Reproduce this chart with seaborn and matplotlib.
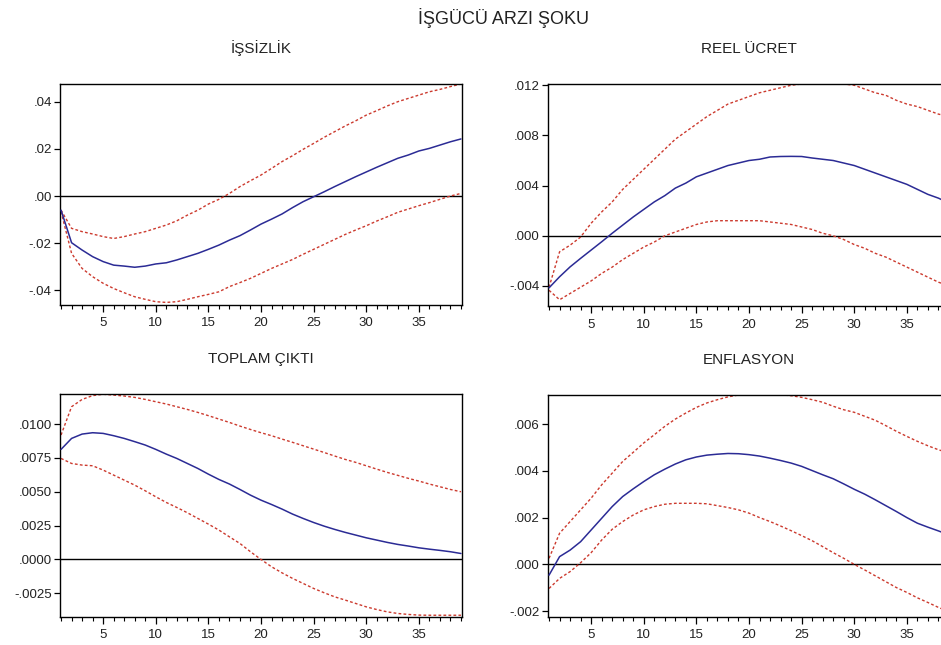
import numpy as np
import pandas as pd
import matplotlib
matplotlib.use("Agg")
import matplotlib.pyplot as plt
from matplotlib.ticker import MultipleLocator, FixedLocator, FixedFormatter
import seaborn as sns

periods = list(range(1, 40))

issizlik = [-0.0060, -0.0198, -0.0229, -0.0257, -0.0278, -0.0293, -0.0297, -0.0302, -0.0297, -0.0288,
            -0.0283, -0.0271, -0.0257, -0.0243, -0.0226, -0.0208, -0.0187, -0.0168, -0.0144, -0.0119,
            -0.0098, -0.0076, -0.0049, -0.0024, -0.0003, 0.0018, 0.0040, 0.0061, 0.0082, 0.0102,
            0.0122, 0.0141, 0.0160, 0.0174, 0.0191, 0.0202, 0.0216, 0.0230, 0.0242]
issizlik_up = [-0.0060, -0.0137, -0.0151, -0.0161, -0.0172, -0.0180, -0.0172, -0.0161, -0.0151, -0.0137,
               -0.0123, -0.0105, -0.0081, -0.0060, -0.0034, -0.0014, 0.0011, 0.0040, 0.0065, 0.0089,
               0.0117, 0.0146, 0.0171, 0.0198, 0.0223, 0.0249, 0.0273, 0.0297, 0.0319, 0.0343,
               0.0362, 0.0382, 0.0400, 0.0414, 0.0428, 0.0442, 0.0452, 0.0464, 0.0475]
issizlik_lo = [-0.0066, -0.0243, -0.0307, -0.0342, -0.0370, -0.0392, -0.0410, -0.0427, -0.0438, -0.0448,
               -0.0451, -0.0448, -0.0438, -0.0427, -0.0417, -0.0406, -0.0384, -0.0367, -0.0349, -0.0328,
               -0.0307, -0.0288, -0.0269, -0.0247, -0.0226, -0.0205, -0.0184, -0.0163, -0.0144, -0.0126,
               -0.0106, -0.0088, -0.0069, -0.0055, -0.0041, -0.0028, -0.0014, 0.0000, 0.0011]

reel = [-0.00415, -0.00327, -0.00248, -0.00180, -0.00114, -0.00048, 0.00020, 0.00085, 0.00150, 0.00210,
        0.00270, 0.00320, 0.00380, 0.00420, 0.00470, 0.00500, 0.00530, 0.00560, 0.00580, 0.00600,
        0.00610, 0.00628, 0.00632, 0.00633, 0.00632, 0.00620, 0.00610, 0.00600, 0.00580, 0.00560,
        0.00530, 0.00500, 0.00470, 0.00440, 0.00410, 0.00370, 0.00330, 0.00300, 0.00260]
reel_up = [-0.00410, -0.00128, -0.00075, -0.00010, 0.00100, 0.00190, 0.00270, 0.00370, 0.00450, 0.00530,
           0.00610, 0.00690, 0.00770, 0.00830, 0.00890, 0.00950, 0.01000, 0.01050, 0.01080, 0.01110,
           0.01140, 0.01160, 0.01180, 0.01200, 0.01210, 0.01212, 0.01212, 0.01212, 0.01210, 0.01200,
           0.01170, 0.01140, 0.01120, 0.01080, 0.01050, 0.01030, 0.01000, 0.00970, 0.00950]
reel_lo = [-0.00435, -0.00510, -0.00460, -0.00410, -0.00360, -0.00300, -0.00250, -0.00190, -0.00140, -0.00090,
           -0.00050, 0.00000, 0.00030, 0.00060, 0.00090, 0.00110, 0.00120, 0.00120, 0.00120, 0.00120,
           0.00120, 0.00110, 0.00100, 0.00090, 0.00070, 0.00050, 0.00020, 0.00000, -0.00030, -0.00070,
           -0.00100, -0.00140, -0.00170, -0.00210, -0.00250, -0.00290, -0.00330, -0.00370, -0.00400]

cikti = [0.00813, 0.00894, 0.00926, 0.00936, 0.00931, 0.00914, 0.00894, 0.00870, 0.00845, 0.00813,
         0.00778, 0.00746, 0.00709, 0.00672, 0.00630, 0.00591, 0.00557, 0.00517, 0.00475, 0.00438,
         0.00406, 0.00372, 0.00335, 0.00303, 0.00273, 0.00246, 0.00222, 0.00200, 0.00180, 0.00160,
         0.00143, 0.00126, 0.00111, 0.00099, 0.00086, 0.00076, 0.00067, 0.00057, 0.00044]
cikti_up = [0.00919, 0.01128, 0.01182, 0.01210, 0.01220, 0.01214, 0.01207, 0.01197, 0.01182, 0.01165,
            0.01148, 0.01128, 0.01108, 0.01086, 0.01062, 0.01037, 0.01012, 0.00985, 0.00960, 0.00936,
            0.00914, 0.00889, 0.00865, 0.00840, 0.00815, 0.00790, 0.00764, 0.00739, 0.00717, 0.00692,
            0.00667, 0.00643, 0.00621, 0.00599, 0.00579, 0.00557, 0.00537, 0.00517, 0.00500]
cikti_lo = [0.00746, 0.00709, 0.00697, 0.00692, 0.00660, 0.00623, 0.00586, 0.00549, 0.00507, 0.00463,
            0.00421, 0.00384, 0.00345, 0.00303, 0.00261, 0.00217, 0.00167, 0.00118, 0.00057, 0.00000,
            -0.00054, -0.00099, -0.00140, -0.00177, -0.00214, -0.00246, -0.00276, -0.00300, -0.00325, -0.00350,
            -0.00370, -0.00387, -0.00399, -0.00406, -0.00411, -0.00412, -0.00412, -0.00412, -0.00412]

enf = [-0.00046, 0.00033, 0.00061, 0.00097, 0.00147, 0.00197, 0.00247, 0.00290, 0.00323, 0.00354,
       0.00383, 0.00407, 0.00429, 0.00447, 0.00459, 0.00467, 0.00471, 0.00474, 0.00473, 0.00469,
       0.00463, 0.00454, 0.00444, 0.00433, 0.00419, 0.00401, 0.00383, 0.00366, 0.00344, 0.00321,
       0.00300, 0.00276, 0.00251, 0.00226, 0.00200, 0.00176, 0.00159, 0.00143, 0.00126]
enf_up = [0.00026, 0.00133, 0.00183, 0.00233, 0.00283, 0.00340, 0.00390, 0.00440, 0.00479, 0.00519,
          0.00554, 0.00590, 0.00621, 0.00647, 0.00671, 0.00690, 0.00704, 0.00716, 0.00724, 0.00726,
          0.00726, 0.00726, 0.00725, 0.00721, 0.00714, 0.00704, 0.00693, 0.00676, 0.00661, 0.00650,
          0.00633, 0.00616, 0.00593, 0.00569, 0.00547, 0.00526, 0.00507, 0.00490, 0.00476]
enf_lo = [-0.00103, -0.00060, -0.00031, 0.00007, 0.00050, 0.00104, 0.00150, 0.00183, 0.00211, 0.00233,
          0.00247, 0.00257, 0.00261, 0.00261, 0.00261, 0.00259, 0.00251, 0.00243, 0.00233, 0.00219,
          0.00200, 0.00183, 0.00164, 0.00144, 0.00123, 0.00101, 0.00076, 0.00050, 0.00026, 0.00000,
          -0.00024, -0.00049, -0.00074, -0.00099, -0.00120, -0.00143, -0.00163, -0.00184, -0.00203]

main_title = "İŞGÜCÜ ARZI ŞOKU"
panel_titles = ["İŞSİZLİK", "REEL ÜCRET", "TOPLAM ÇIKTI", "ENFLASYON"]
ytick_vals = [
    [-0.04, -0.02, 0.00, 0.02, 0.04],
    [-0.004, 0.000, 0.004, 0.008, 0.012],
    [-0.0025, 0.0000, 0.0025, 0.0050, 0.0075, 0.0100],
    [-0.002, 0.000, 0.002, 0.004, 0.006],
]
ytick_labels = [
    ["-.04", "-.02", ".00", ".02", ".04"],
    ["-.004", ".000", ".004", ".008", ".012"],
    ["-.0025", ".0000", ".0025", ".0050", ".0075", ".0100"],
    ["-.002", ".000", ".002", ".004", ".006"],
]
ylims = [(-0.0462, 0.0475), (-0.0056, 0.0121), (-0.00425, 0.01222), (-0.00225, 0.00724)]
xtick_vals = [5, 10, 15, 20, 25, 30, 35]

series = [
    (issizlik, issizlik_up, issizlik_lo),
    (reel, reel_up, reel_lo),
    (cikti, cikti_up, cikti_lo),
    (enf, enf_up, enf_lo),
]

sns.set_style("white")
plt.rcParams["font.family"] = ["Liberation Sans", "DejaVu Sans"]

W, H = 941, 645
fig = plt.figure(figsize=(W / 100, H / 100), dpi=100)

# axes boxes in pixels: left, top, width, height
boxes = [(60, 84, 402, 221), (548, 84, 402, 222), (60, 394, 402, 223), (548, 395, 402, 222)]

blue = "#2b2b95"
red = "#cc3a2e"
txt = "#222222"

for i, (box, (mid, up, lo)) in enumerate(zip(boxes, series)):
    l, t, w, h = box
    ax = fig.add_axes([l / W, 1 - (t + h) / H, w / W, h / H])
    df = pd.DataFrame({"period": periods, "mid": mid, "up": up, "lo": lo})
    ax.axhline(0, color="black", lw=1.0, zorder=1)
    sns.lineplot(data=df, x="period", y="up", ax=ax, color=red, lw=1.0,
                 linestyle=(0, (2.0, 1.6)), zorder=2)
    sns.lineplot(data=df, x="period", y="lo", ax=ax, color=red, lw=1.0,
                 linestyle=(0, (2.0, 1.6)), zorder=2)
    sns.lineplot(data=df, x="period", y="mid", ax=ax, color=blue, lw=1.1, zorder=3)
    ax.set_xlim(0.9, 39.1)
    ax.set_ylim(*ylims[i])
    ax.set_xlabel("")
    ax.set_ylabel("")
    ax.xaxis.set_major_locator(FixedLocator(xtick_vals))
    ax.xaxis.set_minor_locator(MultipleLocator(1))
    ax.yaxis.set_major_locator(FixedLocator(ytick_vals[i]))
    ax.yaxis.set_major_formatter(FixedFormatter(ytick_labels[i]))
    ax.tick_params(axis="x", which="major", direction="out", length=5, width=0.9,
                   bottom=True, labelsize=9.5, colors="black", labelcolor=txt, pad=4)
    ax.tick_params(axis="x", which="minor", direction="out", length=3, width=0.8, bottom=True, colors="black")
    ax.tick_params(axis="y", which="major", direction="out", length=4, width=0.9,
                   left=True, labelsize=9.5, colors="black", labelcolor=txt, pad=2)
    for s in ax.spines.values():
        s.set_color("black")
        s.set_linewidth(1.0)
        s.set_visible(True)
    ax.set_title(panel_titles[i], fontsize=11, color=txt, pad=22)

fig.text(503 / W, 1 - 18 / H, main_title, ha="center", va="center", fontsize=13, color=txt)

fig.savefig("out.png", dpi=100, facecolor="white")
